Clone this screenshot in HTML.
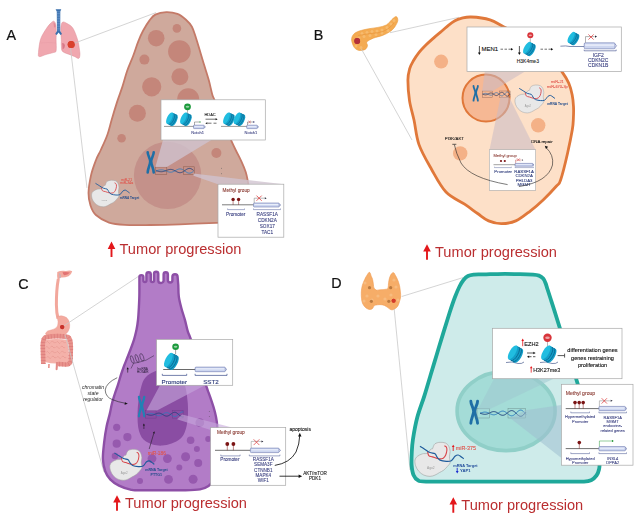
<!DOCTYPE html>
<html><head><meta charset="utf-8"><style>
html,body{margin:0;padding:0;background:#fff;}
svg{display:block;font-family:'Liberation Sans',sans-serif;filter:blur(0.3px);}
</style></head><body>
<svg width="639" height="517" viewBox="0 0 639 517">
<text x="6.4" y="40" font-size="14.3" fill="#111" stroke="#111" stroke-width="0.2">A</text>
<text x="313.8" y="40" font-size="14.3" fill="#111" stroke="#111" stroke-width="0.2">B</text>
<text x="18.2" y="288.6" font-size="14.3" fill="#111" stroke="#111" stroke-width="0.2">C</text>
<text x="331.3" y="288.4" font-size="14.3" fill="#111" stroke="#111" stroke-width="0.2">D</text>
<path d="M53.8,21.2 C54.7,21.4 55.4,22.9 55.8,24.7 C56.2,26.5 56.2,29.5 56.3,32.0 C56.3,34.5 56.1,36.7 56.1,39.8 C56.1,42.9 56.6,48.7 56.1,50.8 C55.6,52.9 54.9,52.0 53.2,52.6 C51.5,53.2 48.3,53.8 46.0,54.5 C43.7,55.2 40.5,56.9 39.3,56.6 C38.0,56.3 38.3,55.3 38.5,52.5 C38.7,49.7 39.3,43.5 40.4,39.8 C41.5,36.1 43.5,33.2 45.1,30.5 C46.8,27.8 48.8,25.2 50.3,23.6 C51.8,22.1 52.9,21.0 53.8,21.2Z" fill="#f0a7af" stroke="#dc8c97" stroke-width="0.5"/><path d="M62.5,22.2 C63.5,21.4 65.4,22.6 67.1,23.6 C68.8,24.6 71.2,25.5 72.9,28.2 C74.7,30.9 76.5,36.2 77.6,39.8 C78.7,43.4 79.1,47.5 79.5,50.0 C79.9,52.5 80.0,53.5 79.9,54.9 C79.8,56.3 79.6,58.1 78.7,58.4 C77.8,58.7 75.8,57.1 74.5,56.5 C73.2,55.9 72.6,55.8 70.6,54.9 C68.6,54.0 64.0,53.0 62.5,51.4 C61.0,49.8 61.5,46.9 61.3,45.0 C61.1,43.1 61.4,42.6 61.3,39.8 C61.2,37.0 60.6,31.1 60.8,28.2 C61.0,25.3 61.5,23.0 62.5,22.2Z" fill="#f0a7af" stroke="#dc8c97" stroke-width="0.5"/><path d="M62.2,43 Q64.5,42.5 65,45.5 Q64.8,48.5 62.6,49.5 Z" fill="#d97887"/><path d="M53.5,22.5 Q55.8,23.2 55.6,27 L54,27.5 Z" fill="#e28a96"/><path d="M40.5,43 Q48,42 56,43" stroke="#e59aa4" stroke-width="0.4" fill="none"/><path d="M55.6,9.2 L61.3,9.2 L60.3,11.5 L60.2,31 L62,34 L60.5,35 L58.6,32.5 L56.7,35 L55.2,34 L57,31 L56.8,11.5 Z" fill="#3b70ad"/><line x1="56.9" y1="11.80" x2="60.1" y2="11.80" stroke="#7fa9d8" stroke-width="0.55"/><line x1="56.9" y1="13.45" x2="60.1" y2="13.45" stroke="#7fa9d8" stroke-width="0.55"/><line x1="56.9" y1="15.10" x2="60.1" y2="15.10" stroke="#7fa9d8" stroke-width="0.55"/><line x1="56.9" y1="16.75" x2="60.1" y2="16.75" stroke="#7fa9d8" stroke-width="0.55"/><line x1="56.9" y1="18.40" x2="60.1" y2="18.40" stroke="#7fa9d8" stroke-width="0.55"/><line x1="56.9" y1="20.05" x2="60.1" y2="20.05" stroke="#7fa9d8" stroke-width="0.55"/><line x1="56.9" y1="21.70" x2="60.1" y2="21.70" stroke="#7fa9d8" stroke-width="0.55"/><line x1="56.9" y1="23.35" x2="60.1" y2="23.35" stroke="#7fa9d8" stroke-width="0.55"/><line x1="56.9" y1="25.00" x2="60.1" y2="25.00" stroke="#7fa9d8" stroke-width="0.55"/><line x1="56.9" y1="26.65" x2="60.1" y2="26.65" stroke="#7fa9d8" stroke-width="0.55"/><line x1="56.9" y1="28.30" x2="60.1" y2="28.30" stroke="#7fa9d8" stroke-width="0.55"/><line x1="56.9" y1="29.95" x2="60.1" y2="29.95" stroke="#7fa9d8" stroke-width="0.55"/><circle cx="71.2" cy="44.5" r="3.5" fill="#d9412e"/>
<path d="M396.2,16.6 C395.2,16.4 393.6,18.0 392.0,19.4 C390.4,20.8 388.7,23.7 386.3,25.0 C383.9,26.3 380.9,26.8 377.9,27.4 C374.9,28.0 371.6,28.2 368.5,28.8 C365.4,29.4 361.6,30.2 359.1,31.1 C356.6,32.0 354.8,32.9 353.5,34.4 C352.2,35.9 351.5,37.8 351.6,40.0 C351.8,42.2 353.1,45.9 354.4,47.6 C355.6,49.3 357.3,50.1 359.1,50.4 C360.9,50.7 363.8,50.2 365.2,49.4 C366.6,48.6 367.2,46.9 367.5,45.7 C367.8,44.5 365.9,43.2 366.8,42.0 C367.8,40.8 370.6,39.3 373.2,38.2 C375.8,37.1 379.8,36.5 382.6,35.4 C385.4,34.3 388.0,33.0 390.0,31.6 C392.0,30.2 393.5,28.8 394.8,26.9 C396.1,25.0 397.6,22.2 397.8,20.5 C398.0,18.8 397.2,16.8 396.2,16.6Z" fill="#f4ab52" stroke="#e99a3e" stroke-width="0.6"/><circle cx="362" cy="33.5" r="1.5" fill="#f8c27a" opacity="0.7"/><circle cx="367" cy="32.5" r="1.5" fill="#f8c27a" opacity="0.7"/><circle cx="372" cy="31.5" r="1.5" fill="#f8c27a" opacity="0.7"/><circle cx="377" cy="31" r="1.5" fill="#f8c27a" opacity="0.7"/><circle cx="382" cy="30" r="1.5" fill="#f8c27a" opacity="0.7"/><circle cx="387" cy="27.5" r="1.5" fill="#f8c27a" opacity="0.7"/><circle cx="391" cy="24" r="1.5" fill="#f8c27a" opacity="0.7"/><circle cx="394" cy="20.5" r="1.5" fill="#f8c27a" opacity="0.7"/><circle cx="359" cy="38" r="1.5" fill="#f8c27a" opacity="0.7"/><circle cx="364" cy="36.5" r="1.5" fill="#f8c27a" opacity="0.7"/><circle cx="370" cy="35.5" r="1.5" fill="#f8c27a" opacity="0.7"/><circle cx="376" cy="34.5" r="1.5" fill="#f8c27a" opacity="0.7"/><circle cx="382" cy="33" r="1.5" fill="#f8c27a" opacity="0.7"/><circle cx="388" cy="30.5" r="1.5" fill="#f8c27a" opacity="0.7"/><circle cx="356" cy="46" r="1.5" fill="#f8c27a" opacity="0.7"/><circle cx="361" cy="47.5" r="1.5" fill="#f8c27a" opacity="0.7"/><path d="M358,35.5 Q368,33.5 378,32.8 Q388,31 394,23" stroke="#e38f36" stroke-width="0.5" fill="none"/><circle cx="357.2" cy="41" r="2.9" fill="#b3303a"/>
<path d="M57.3,272 Q61,270.2 66,271 Q70,270 72.2,271.2 Q71.5,274.5 68.5,276.2 Q64.5,277.8 61,277.5 Q59.2,278 59,280 L57.6,280 Q56.8,276 57.3,272Z" fill="#f2a89d"/><path d="M62.5,272.3 Q66.5,271.8 70,272.6 Q67.5,275.2 64.5,275.2 Q63,274.8 62.5,272.3Z" fill="#e27272"/><path d="M59.5,273.5 Q60.8,276 59.8,278.2" stroke="#a9b8c8" stroke-width="0.9" fill="none"/><path d="M58.3,279 Q56.3,290 56.4,305 Q56.5,313 58,318.5" stroke="#f2a79c" stroke-width="3" fill="none"/><path d="M57,316.5 Q62,314.5 66.5,317.5 Q70.5,321.5 69.5,328 Q68,334 62,336 Q55,337.5 49,336.5 Q45.3,335.5 45.6,333 Q47,330.5 51,330 Q55.5,329.5 57.5,326 Q58.8,322 57,316.5Z" fill="#f3aa9f" stroke="#e8948c" stroke-width="0.4"/><path d="M45,340 Q56,338 68,340 L68,362 Q56,365 45,362Z" fill="#f4b1a9"/><path d="M46.3,342.5 q1.1,-2.2 2.2,0 q1.1,2.2 2.2,0" stroke="#e08a84" stroke-width="0.45" fill="none"/><path d="M51.3,342 q1.1,-2.2 2.2,0 q1.1,2.2 2.2,0" stroke="#e08a84" stroke-width="0.45" fill="none"/><path d="M56.3,342.5 q1.1,-2.2 2.2,0 q1.1,2.2 2.2,0" stroke="#e08a84" stroke-width="0.45" fill="none"/><path d="M61.3,342 q1.1,-2.2 2.2,0 q1.1,2.2 2.2,0" stroke="#e08a84" stroke-width="0.45" fill="none"/><path d="M45.8,347.5 q1.1,-2.2 2.2,0 q1.1,2.2 2.2,0" stroke="#e08a84" stroke-width="0.45" fill="none"/><path d="M50.8,347 q1.1,-2.2 2.2,0 q1.1,2.2 2.2,0" stroke="#e08a84" stroke-width="0.45" fill="none"/><path d="M55.8,347.5 q1.1,-2.2 2.2,0 q1.1,2.2 2.2,0" stroke="#e08a84" stroke-width="0.45" fill="none"/><path d="M60.8,347 q1.1,-2.2 2.2,0 q1.1,2.2 2.2,0" stroke="#e08a84" stroke-width="0.45" fill="none"/><path d="M46.3,352.5 q1.1,-2.2 2.2,0 q1.1,2.2 2.2,0" stroke="#e08a84" stroke-width="0.45" fill="none"/><path d="M51.3,352 q1.1,-2.2 2.2,0 q1.1,2.2 2.2,0" stroke="#e08a84" stroke-width="0.45" fill="none"/><path d="M56.3,352.5 q1.1,-2.2 2.2,0 q1.1,2.2 2.2,0" stroke="#e08a84" stroke-width="0.45" fill="none"/><path d="M61.3,352 q1.1,-2.2 2.2,0 q1.1,2.2 2.2,0" stroke="#e08a84" stroke-width="0.45" fill="none"/><path d="M46.8,357.5 q1.1,-2.2 2.2,0 q1.1,2.2 2.2,0" stroke="#e08a84" stroke-width="0.45" fill="none"/><path d="M51.8,357 q1.1,-2.2 2.2,0 q1.1,2.2 2.2,0" stroke="#e08a84" stroke-width="0.45" fill="none"/><path d="M56.8,357.5 q1.1,-2.2 2.2,0 q1.1,2.2 2.2,0" stroke="#e08a84" stroke-width="0.45" fill="none"/><path d="M61.8,357 q1.1,-2.2 2.2,0 q1.1,2.2 2.2,0" stroke="#e08a84" stroke-width="0.45" fill="none"/><path d="M43.3,364 L42.8,348 Q42.5,339.5 45,337.5 Q56,335 68,337 Q71,339 70.8,348 L70.5,361 Q70,364.5 66,364.5 L58,364" stroke="#e8928b" stroke-width="4.6" fill="none" stroke-linejoin="round"/><path d="M43.3,364 L42.8,348 Q42.5,339.5 45,337.5 Q56,335 68,337 Q71,339 70.8,348 L70.5,361 Q70,364.5 66,364.5 L58,364" stroke="#d9787a" stroke-width="4.6" fill="none" stroke-dasharray="0.6 2.4" stroke-linejoin="round"/><path d="M56,362 L55.6,369.5 Q56.5,371 57.6,369.5 L58.2,362Z" fill="#e28a86"/><path d="M49,364 L48.8,368" stroke="#e8928b" stroke-width="1.6"/><circle cx="62.2" cy="327.1" r="2.1" fill="#c8322a"/>
<path d="M369.5,272.3 C368.7,272.1 367.6,274.3 366.8,275.5 C366.0,276.7 365.4,277.8 364.7,279.5 C363.9,281.2 362.9,283.4 362.3,285.5 C361.7,287.6 361.4,289.8 361.3,292.0 C361.2,294.2 361.3,296.6 361.5,298.5 C361.7,300.4 362.0,302.2 362.7,303.7 C363.4,305.2 364.4,306.5 365.5,307.5 C366.6,308.5 368.3,309.3 369.5,309.5 C370.7,309.7 371.7,309.1 372.5,308.5 C373.3,307.9 373.5,306.2 374.3,305.6 C375.1,305.0 376.4,305.0 377.5,304.8 C378.6,304.6 379.9,304.6 381.1,304.7 C382.3,304.8 383.4,305.0 384.5,305.5 C385.6,306.0 386.9,306.9 387.9,307.6 C388.9,308.3 389.6,309.2 390.5,309.5 C391.4,309.8 392.4,310.0 393.6,309.5 C394.8,309.0 396.5,307.8 397.5,306.5 C398.5,305.2 398.9,303.4 399.4,301.8 C399.9,300.2 400.4,298.6 400.6,297.0 C400.8,295.4 400.6,293.9 400.4,292.0 C400.2,290.1 400.0,287.6 399.5,285.5 C399.0,283.4 398.2,281.2 397.5,279.5 C396.8,277.8 396.1,276.6 395.5,275.5 C394.9,274.4 394.3,272.9 393.6,272.7 C392.9,272.4 392.0,273.1 391.3,274.0 C390.6,274.9 389.9,276.6 389.5,278.0 C389.1,279.4 388.9,280.7 388.6,282.4 C388.3,284.1 388.5,287.0 387.9,288.2 C387.3,289.4 386.0,289.1 385.0,289.4 C384.0,289.6 383.0,289.6 382.0,289.7 C381.0,289.8 379.9,289.8 379.0,289.9 C378.1,290.0 377.1,290.4 376.3,290.1 C375.5,289.8 374.5,289.0 374.0,288.0 C373.5,287.0 373.6,285.7 373.4,284.3 C373.2,282.9 372.9,280.8 372.6,279.5 C372.3,278.2 371.9,277.8 371.4,276.6 C370.9,275.4 370.3,272.5 369.5,272.3Z" fill="#f6ad68" stroke="#f09a50" stroke-width="0.6"/><circle cx="365" cy="283" r="1.6" fill="#f8bf86" opacity="0.8"/><circle cx="367" cy="296" r="1.6" fill="#f8bf86" opacity="0.8"/><circle cx="372" cy="300" r="1.6" fill="#f8bf86" opacity="0.8"/><circle cx="378" cy="296" r="1.6" fill="#f8bf86" opacity="0.8"/><circle cx="385" cy="299" r="1.6" fill="#f8bf86" opacity="0.8"/><circle cx="391" cy="295" r="1.6" fill="#f8bf86" opacity="0.8"/><circle cx="396" cy="287" r="1.6" fill="#f8bf86" opacity="0.8"/><circle cx="394" cy="280" r="1.6" fill="#f8bf86" opacity="0.8"/><circle cx="364" cy="301" r="1.6" fill="#f8bf86" opacity="0.8"/><circle cx="398" cy="300" r="1.6" fill="#f8bf86" opacity="0.8"/><circle cx="369.5" cy="287.7" r="1.6" fill="#bb7a40"/><circle cx="390.7" cy="287.7" r="1.6" fill="#bb7a40"/><circle cx="371.4" cy="301.3" r="1.6" fill="#bb7a40"/><circle cx="388.8" cy="301.3" r="1.6" fill="#bb7a40"/><circle cx="393.6" cy="300.8" r="2.0" fill="#d33a2a"/>
<line x1="71" y1="44.5" x2="156" y2="12.6" stroke="#c9c9c9" stroke-width="0.8" fill="none"/>
<line x1="70.5" y1="48" x2="87" y2="188" stroke="#c9c9c9" stroke-width="0.8" fill="none"/>
<line x1="390" y1="32.7" x2="459" y2="17.3" stroke="#c9c9c9" stroke-width="0.8" fill="none"/>
<line x1="361.4" y1="49" x2="412" y2="140" stroke="#c9c9c9" stroke-width="0.8" fill="none"/>
<line x1="61.6" y1="327.4" x2="139" y2="276" stroke="#c9c9c9" stroke-width="0.8" fill="none"/>
<line x1="65" y1="335" x2="104" y2="472" stroke="#c9c9c9" stroke-width="0.8" fill="none"/>
<line x1="401.7" y1="296.5" x2="463" y2="277.6" stroke="#c9c9c9" stroke-width="0.8" fill="none"/>
<line x1="394.2" y1="309" x2="410" y2="470" stroke="#c9c9c9" stroke-width="0.8" fill="none"/>
<circle cx="71.2" cy="44.5" r="3.5" fill="#d9412e"/>
<circle cx="357.2" cy="41" r="2.9" fill="#b3303a"/>
<circle cx="62.2" cy="327.1" r="2.1" fill="#c8322a"/>
<circle cx="393.6" cy="300.8" r="2.0" fill="#d33a2a"/>
<path d="M166.3,12.1 C170.0,12.0 174.2,12.7 177.4,13.9 C180.6,15.1 183.3,17.4 185.7,19.5 C188.1,21.6 190.2,23.7 191.9,26.8 C193.6,29.9 194.5,33.5 196.0,38.0 C197.5,42.5 199.2,48.6 200.7,53.5 C202.2,58.4 203.4,62.6 204.8,67.1 C206.2,71.6 207.7,76.1 208.9,80.6 C210.1,85.1 211.3,91.0 212.2,94.2 C213.1,97.4 212.8,95.7 214.5,100.0 C216.2,104.3 219.7,113.2 222.5,120.0 C225.3,126.8 229.1,135.7 231.4,140.9 C233.7,146.1 234.5,147.6 236.2,151.0 C237.9,154.4 239.9,158.1 241.5,161.6 C243.1,165.1 244.7,168.8 245.8,172.2 C246.9,175.6 247.2,178.0 247.9,181.8 C248.6,185.6 249.7,190.3 250.0,195.0 C250.3,199.7 250.7,205.8 249.5,210.0 C248.3,214.2 246.2,217.9 243.0,220.0 C239.8,222.1 234.5,221.8 230.0,222.3 C225.5,222.8 224.3,222.5 216.0,222.8 C207.7,223.1 191.0,223.9 180.0,224.3 C169.0,224.7 159.2,224.9 150.0,225.0 C140.8,225.1 131.8,225.3 125.0,224.9 C118.2,224.5 113.8,224.2 109.0,222.6 C104.2,220.9 99.0,217.8 95.9,215.0 C92.8,212.2 91.7,209.2 90.5,205.5 C89.3,201.8 88.4,198.0 88.5,193.0 C88.6,188.0 89.8,180.9 91.0,175.4 C92.2,169.9 94.4,164.2 96.0,160.0 C97.6,155.8 98.9,154.2 100.8,150.0 C102.7,145.8 105.5,140.0 107.3,135.0 C109.1,130.0 110.0,125.5 111.6,120.0 C113.2,114.5 115.3,107.5 117.1,101.9 C118.9,96.3 120.8,91.6 122.5,86.4 C124.2,81.2 125.3,76.2 127.1,71.0 C128.9,65.8 131.5,60.4 133.3,55.5 C135.2,50.6 136.5,45.8 138.2,41.6 C139.8,37.4 141.3,34.0 143.2,30.5 C145.1,27.0 147.4,23.2 149.4,20.6 C151.4,18.0 152.5,16.0 155.3,14.6 C158.1,13.2 162.6,12.2 166.3,12.1Z" fill="#cfa99c" stroke="#c47a68" stroke-width="1.8"/>
<circle cx="176.9" cy="28.4" r="4.3" fill="#c4867a"/>
<circle cx="156.2" cy="38.2" r="8.3" fill="#c4867a"/>
<circle cx="179.4" cy="51.6" r="11.3" fill="#c4867a"/>
<circle cx="144.4" cy="59.6" r="5" fill="#c4867a"/>
<circle cx="179.9" cy="76.7" r="8.5" fill="#c4867a"/>
<circle cx="151.7" cy="86.8" r="9.6" fill="#c4867a"/>
<circle cx="137.4" cy="113.2" r="8.5" fill="#c4867a"/>
<circle cx="188.2" cy="99.3" r="11" fill="#c4867a"/>
<circle cx="121.6" cy="138.2" r="4.3" fill="#c4867a"/>
<circle cx="216.4" cy="153" r="5" fill="#c4867a"/>
<circle cx="167.6" cy="175.4" r="33.7" fill="#c4918a"/>
<path d="M147.69,152.29 C147.69,155.56 150.18,158.07 150.18,161.49 C150.18,164.91 147.69,168.78 147.69,172.51" stroke="#1f6fa6" stroke-width="2.58" stroke-linecap="round" stroke-linejoin="round" fill="none"/><path d="M153.71,152.29 C153.71,155.56 151.22,158.07 151.22,161.49 C151.22,164.91 153.71,168.78 153.71,172.51" stroke="#1f6fa6" stroke-width="2.58" stroke-linecap="round" stroke-linejoin="round" fill="none"/>
<polyline points="156.00,170.80 156.49,170.69 156.99,170.58 157.48,170.46 157.97,170.34 158.47,170.23 158.96,170.13 159.45,170.05 159.95,169.97 160.44,169.92 160.93,169.90 161.43,169.89 161.92,169.91 162.41,169.96 162.91,170.04 163.40,170.14 163.89,170.26 164.39,170.41 164.88,170.57 165.38,170.75 165.87,170.94 166.36,171.13 166.86,171.33 167.35,171.51 167.84,171.69 168.34,171.84 168.83,171.97 169.32,172.08 169.82,172.15 170.31,172.19 170.80,172.20 171.30,172.16 171.79,172.08 172.28,171.97 172.78,171.82 173.27,171.64 173.76,171.43 174.26,171.19 174.75,170.93 175.24,170.67 175.74,170.40 176.23,170.13 176.72,169.87 177.22,169.63 177.71,169.41 178.20,169.23 178.70,169.08 179.19,168.98 179.68,168.92 180.18,168.91 180.67,168.96 181.16,169.05 181.66,169.20 182.15,169.39 182.64,169.63 183.14,169.90 183.63,170.21 184.12,170.54 184.62,170.88 185.11,171.23 185.61,171.58 186.10,171.92 186.59,172.23 187.09,172.51 187.58,172.75 188.07,172.94 188.57,173.08 189.06,173.16 189.55,173.18 190.05,173.14 190.54,173.03 191.03,172.85 191.53,172.62 192.02,172.34 192.51,172.00 193.01,171.63 193.50,171.23" stroke="#2b7dc0" stroke-width="0.85" fill="none"/><polyline points="156.00,170.80 156.49,170.91 156.99,171.02 157.48,171.14 157.97,171.26 158.47,171.37 158.96,171.47 159.45,171.55 159.95,171.63 160.44,171.68 160.93,171.70 161.43,171.71 161.92,171.69 162.41,171.64 162.91,171.56 163.40,171.46 163.89,171.34 164.39,171.19 164.88,171.03 165.38,170.85 165.87,170.66 166.36,170.47 166.86,170.27 167.35,170.09 167.84,169.91 168.34,169.76 168.83,169.63 169.32,169.52 169.82,169.45 170.31,169.41 170.80,169.40 171.30,169.44 171.79,169.52 172.28,169.63 172.78,169.78 173.27,169.96 173.76,170.17 174.26,170.41 174.75,170.67 175.24,170.93 175.74,171.20 176.23,171.47 176.72,171.73 177.22,171.97 177.71,172.19 178.20,172.37 178.70,172.52 179.19,172.62 179.68,172.68 180.18,172.69 180.67,172.64 181.16,172.55 181.66,172.40 182.15,172.21 182.64,171.97 183.14,171.70 183.63,171.39 184.12,171.06 184.62,170.72 185.11,170.37 185.61,170.02 186.10,169.68 186.59,169.37 187.09,169.09 187.58,168.85 188.07,168.66 188.57,168.52 189.06,168.44 189.55,168.42 190.05,168.46 190.54,168.57 191.03,168.75 191.53,168.98 192.02,169.26 192.51,169.60 193.01,169.97 193.50,170.37" stroke="#1d3f7a" stroke-width="0.85" fill="none"/>
<rect x="155.2" y="167" width="11.6" height="7.6" fill="none" stroke="#8a5a4a" stroke-width="0.5"/>
<rect x="183.3" y="166.8" width="10.9" height="7.8" fill="none" stroke="#8a5a4a" stroke-width="0.5"/>
<circle cx="221.5" cy="168.3" r="0.45" fill="#555"/><circle cx="221.5" cy="173.8" r="0.45" fill="#555"/>
<path d="M155.4,167 L166.8,167 L211.4,140 L163,140 Z" fill="#cfc3cf" opacity="0.78"/>
<path d="M193.5,173.6 L284,184.2 L218,184.2 L193.5,175.8 Z" fill="#cfc3cf" opacity="0.78"/>
<rect x="161" y="99.8" width="104.3" height="40.2" fill="#fff" stroke="#a8a8a8" stroke-width="0.7"/><line x1="164" y1="126.4" x2="194" y2="126.4" stroke="#555" stroke-width="0.6"/><line x1="221" y1="126.4" x2="247" y2="126.4" stroke="#555" stroke-width="0.6"/><g transform="translate(172,119.3) rotate(25) scale(1.0)"><path d="M-2.8,-6.2 L2.6,-6.2 A2.4,6.2 0 0 1 2.6,6.2 L-2.8,6.2 Z" fill="#139fc8"/><path d="M-0.7,-6.1 A2.4,6.1 0 0 1 -0.7,6.1" stroke="#0a6a95" stroke-width="0.7" fill="none"/><path d="M1.1,-6.1 A2.4,6.1 0 0 1 1.1,6.1" stroke="#0a6a95" stroke-width="0.7" fill="none"/><ellipse cx="-2.8" cy="0" rx="2.4" ry="6.2" fill="#21bde0"/></g><g transform="translate(186,119.3) rotate(25) scale(1.0)"><path d="M-2.8,-6.2 L2.6,-6.2 A2.4,6.2 0 0 1 2.6,6.2 L-2.8,6.2 Z" fill="#139fc8"/><path d="M-0.7,-6.1 A2.4,6.1 0 0 1 -0.7,6.1" stroke="#0a6a95" stroke-width="0.7" fill="none"/><path d="M1.1,-6.1 A2.4,6.1 0 0 1 1.1,6.1" stroke="#0a6a95" stroke-width="0.7" fill="none"/><ellipse cx="-2.8" cy="0" rx="2.4" ry="6.2" fill="#21bde0"/></g><g transform="translate(229,119.3) rotate(25) scale(1.0)"><path d="M-2.8,-6.2 L2.6,-6.2 A2.4,6.2 0 0 1 2.6,6.2 L-2.8,6.2 Z" fill="#139fc8"/><path d="M-0.7,-6.1 A2.4,6.1 0 0 1 -0.7,6.1" stroke="#0a6a95" stroke-width="0.7" fill="none"/><path d="M1.1,-6.1 A2.4,6.1 0 0 1 1.1,6.1" stroke="#0a6a95" stroke-width="0.7" fill="none"/><ellipse cx="-2.8" cy="0" rx="2.4" ry="6.2" fill="#21bde0"/></g><g transform="translate(239.5,119.3) rotate(25) scale(1.0)"><path d="M-2.8,-6.2 L2.6,-6.2 A2.4,6.2 0 0 1 2.6,6.2 L-2.8,6.2 Z" fill="#139fc8"/><path d="M-0.7,-6.1 A2.4,6.1 0 0 1 -0.7,6.1" stroke="#0a6a95" stroke-width="0.7" fill="none"/><path d="M1.1,-6.1 A2.4,6.1 0 0 1 1.1,6.1" stroke="#0a6a95" stroke-width="0.7" fill="none"/><ellipse cx="-2.8" cy="0" rx="2.4" ry="6.2" fill="#21bde0"/></g><line x1="187.5" y1="110" x2="187.5" y2="113.5" stroke="#888" stroke-width="0.6"/><circle cx="187.5" cy="106.8" r="3.4" fill="#1c9a3c"/><ellipse cx="187.5" cy="106.8" rx="1.87" ry="1.02" fill="#fff" opacity="0.55"/><rect x="193.5" y="125.2" width="10.64" height="3.4" rx="0.68" fill="#cdd6f0" stroke="#5563a0" stroke-width="0.5"/><line x1="194.5" y1="126.49" x2="203.14" y2="126.49" stroke="#eef2fc" stroke-width="0.75"/><path d="M204.14,125.88 L205.5,126.90 L204.14,127.92" fill="none" stroke="#5563a0" stroke-width="0.5"/><rect x="246.7" y="125.2" width="10.64" height="3.4" rx="0.68" fill="#cdd6f0" stroke="#5563a0" stroke-width="0.5"/><line x1="247.7" y1="126.49" x2="256.34" y2="126.49" stroke="#eef2fc" stroke-width="0.75"/><path d="M257.34,125.88 L258.7,126.90 L257.34,127.92" fill="none" stroke="#5563a0" stroke-width="0.5"/><path d="M194.5,125 v-3 h5" stroke="#333" stroke-width="0.4" fill="none"/><circle cx="200" cy="122" r="0.7" fill="#2a9a3a"/><path d="M247.5,125 v-3 h6" stroke="#333" stroke-width="0.4" fill="none"/><circle cx="253.8" cy="122" r="0.7" fill="#2a2a6a"/><path d="M248.4,120.8 L250.79999999999998,123.2 M250.79999999999998,120.8 L248.4,123.2" stroke="#d33" stroke-width="0.5"/><text x="210.1" y="115.9" font-size="4.0" fill="#222" text-anchor="middle" font-weight="normal" font-style="normal" stroke="#222" stroke-width="0.080" >HDAC</text><line x1="205.5" y1="119.2" x2="216.5" y2="119.2" stroke="#111" stroke-width="0.6"/><path d="M217.6,119.2 l-2,-1 v2z" fill="#111"/><line x1="207.5" y1="123.2" x2="211.5" y2="123.2" stroke="#111" stroke-width="0.6"/><path d="M205.3,123.2 l2,-1 v2z" fill="#111"/><line x1="213.5" y1="123.2" x2="216.5" y2="123.2" stroke="#111" stroke-width="0.6"/><text x="197.6" y="133.6" font-size="4.0" fill="#3b4080" text-anchor="middle" font-weight="normal" font-style="normal" stroke="#3b4080" stroke-width="0.080" >Notch1</text><text x="250.9" y="133.6" font-size="4.0" fill="#3b4080" text-anchor="middle" font-weight="normal" font-style="normal" stroke="#3b4080" stroke-width="0.080" >Notch1</text>
<rect x="218" y="184.2" width="65.8" height="53" fill="#fff" stroke="#a8a8a8" stroke-width="0.7"/><text x="222.6" y="192.2" font-size="4.7" fill="#8a3a32" text-anchor="start" font-weight="normal" font-style="normal" stroke="#8a3a32" stroke-width="0.094" >Methyl group</text><line x1="222" y1="204.8" x2="253.5" y2="204.8" stroke="#444" stroke-width="0.7"/><line x1="233.1" y1="204.8" x2="233.1" y2="199.4" stroke="#7a1212" stroke-width="0.5"/><circle cx="233.1" cy="199.4" r="1.7" fill="#7b1414"/><line x1="238.6" y1="204.8" x2="238.6" y2="199.4" stroke="#7a1212" stroke-width="0.5"/><circle cx="238.6" cy="199.4" r="1.7" fill="#7b1414"/><rect x="253.5" y="203" width="25.7" height="4" rx="0.80" fill="#cdd6f0" stroke="#5563a0" stroke-width="0.5"/><line x1="254.5" y1="204.52" x2="278.2" y2="204.52" stroke="#eef2fc" stroke-width="0.88"/><path d="M279.2,203.80 L280.8,205.00 L279.2,206.20" fill="none" stroke="#5563a0" stroke-width="0.5"/><path d="M254.2,203 v-4.8 h10.5" stroke="#666" stroke-width="0.45" fill="none"/><path d="M266.6,198.2 l-1.8,-1 v2z" fill="#223"/><path d="M256.5,195.6 L261.70000000000005,200.79999999999998 M261.70000000000005,195.6 L256.5,200.79999999999998" stroke="#d33" stroke-width="0.75"/><path d="M227.6,208.5 v1.1 h16.900000000000006 v-1.1" stroke="#3a4a8a" stroke-width="0.45" fill="none"/><path d="M253.5,208.5 v1.1 h27.0 v-1.1" stroke="#3a4a8a" stroke-width="0.45" fill="none"/><text x="235.7" y="216.2" font-size="4.7" fill="#3b4080" text-anchor="middle" font-weight="normal" font-style="normal" stroke="#3b4080" stroke-width="0.094" >Promoter</text><text x="267.3" y="216.2" font-size="4.7" fill="#3b4080" text-anchor="middle" font-weight="normal" font-style="normal" stroke="#3b4080" stroke-width="0.094" >RASSF1A</text><text x="267.3" y="222.25" font-size="4.7" fill="#3b4080" text-anchor="middle" font-weight="normal" font-style="normal" stroke="#3b4080" stroke-width="0.094" >CDKN2A</text><text x="267.3" y="228.29999999999998" font-size="4.7" fill="#3b4080" text-anchor="middle" font-weight="normal" font-style="normal" stroke="#3b4080" stroke-width="0.094" >SOX17</text><text x="267.3" y="234.35" font-size="4.7" fill="#3b4080" text-anchor="middle" font-weight="normal" font-style="normal" stroke="#3b4080" stroke-width="0.094" >TAC1</text>
<g transform="translate(91.6,180.2) scale(0.78)"><path d="M18.2,4.6 C18.6,3.8 18.9,2.3 20.0,1.5 C21.1,0.7 23.2,0.1 25.0,0.0 C26.8,-0.1 29.2,0.1 30.7,0.8 C32.2,1.5 33.1,2.6 33.8,4.0 C34.5,5.4 35.0,7.2 35.1,9.0 C35.2,10.8 34.4,12.7 34.4,14.6 C34.4,16.5 35.4,18.7 35.1,20.3 C34.8,21.9 33.5,22.8 32.5,24.0 C31.4,25.2 30.2,26.8 28.8,27.8 C27.4,28.9 25.9,29.5 24.4,30.3 C22.9,31.1 21.6,32.2 20.0,32.8 C18.4,33.4 16.9,34.1 15.0,34.1 C13.1,34.1 10.7,33.6 8.8,32.8 C6.9,31.9 5.2,30.6 3.8,29.0 C2.4,27.4 1.2,25.3 0.6,23.4 C-0.0,21.5 -0.3,19.4 0.0,17.8 C0.3,16.2 1.2,15.1 2.5,14.0 C3.8,12.9 5.8,12.0 7.5,11.5 C9.2,11.0 11.1,11.7 12.5,10.9 C13.9,10.2 14.9,7.7 15.7,7.0 C16.5,6.3 17.1,6.9 17.5,6.5 C17.9,6.1 17.8,5.4 18.2,4.6Z" fill="#e8e8e8" stroke="#a0a0a0" stroke-width="0.6"/><path d="M12.5,9.0 C12.7,9.7 13.0,12.5 13.8,13.4 C14.6,14.3 15.8,14.1 17.5,14.6 C19.2,15.1 22.0,16.3 23.8,16.5 C25.6,16.7 27.1,16.5 28.2,15.9 C29.3,15.3 30.1,14.1 30.7,12.7 C31.3,11.3 31.8,9.1 31.9,7.7 C32.0,6.4 31.7,5.3 31.3,4.6 C30.9,3.9 29.7,3.6 29.4,3.4" stroke="#d8454a" stroke-width="1.1" fill="none"/><path d="M5.0,4.0 C5.8,4.5 8.3,6.1 10.0,7.1 C11.7,8.1 13.3,9.5 15.0,10.2 C16.7,10.9 18.9,10.8 20.0,11.5 C21.1,12.2 21.1,13.5 21.9,14.6 C22.7,15.7 23.4,17.1 25.0,17.8 C26.6,18.5 29.4,18.9 31.3,19.0 C33.2,19.1 34.8,19.2 36.3,18.4 C37.8,17.6 38.9,14.9 40.0,14.0 C41.1,13.1 42.2,12.6 43.2,12.7 C44.2,12.8 45.4,14.0 46.3,14.6 C47.2,15.2 48.4,16.2 48.8,16.5" stroke="#1f5c9c" stroke-width="1.2" fill="none"/><text x="12" y="27" font-size="3.2" fill="#999">Ago2</text></g>
<text x="126.7" y="180.5" font-size="3.4" fill="#e0524a" text-anchor="middle" font-weight="normal" font-style="normal" stroke="#e0524a" stroke-width="0.068" >miR-21</text>
<text x="126.7" y="184.4" font-size="3.4" fill="#e0524a" text-anchor="middle" font-weight="normal" font-style="normal" stroke="#e0524a" stroke-width="0.068" >miR-34a</text>
<text x="129.5" y="199.4" font-size="3.1" fill="#1f4a8a" text-anchor="middle" font-weight="bold" font-style="normal" >mRNA Target</text>
<path d="M471.0,17.0 C475.8,17.2 484.5,18.1 490.0,19.8 C495.5,21.5 497.3,23.5 504.0,27.0 C510.7,30.5 522.2,35.8 530.0,41.0 C537.8,46.2 545.7,52.9 551.0,58.0 C556.3,63.1 558.9,67.4 561.9,71.6 C564.9,75.8 567.1,79.4 568.8,83.3 C570.5,87.2 571.4,91.1 572.2,95.0 C573.0,98.9 573.3,102.7 573.5,106.5 C573.7,110.3 573.6,114.1 573.4,118.0 C573.2,121.9 573.3,124.0 572.3,129.8 C571.3,135.6 569.5,144.6 567.6,153.0 C565.7,161.4 562.5,174.5 560.6,180.0 C558.8,185.5 559.4,182.7 556.5,186.0 C553.6,189.3 547.7,195.6 543.4,199.7 C539.1,203.8 535.1,207.3 530.5,210.8 C525.9,214.3 520.7,218.8 515.8,220.9 C510.9,223.1 505.8,223.7 501.3,223.7 C496.8,223.7 492.6,222.6 488.6,220.9 C484.7,219.2 481.6,216.3 477.6,213.5 C473.6,210.7 469.9,207.8 464.6,204.2 C459.3,200.6 451.5,197.8 446.0,192.0 C440.5,186.2 436.0,177.1 431.5,169.2 C427.0,161.3 421.9,152.8 419.0,144.6 C416.1,136.4 415.6,127.3 414.0,120.0 C412.4,112.7 410.5,107.3 409.5,100.6 C408.5,93.9 407.9,85.3 407.9,80.0 C407.9,74.7 408.8,71.9 409.7,68.7 C410.6,65.5 411.9,63.4 413.4,60.8 C414.9,58.1 416.7,55.3 418.7,52.8 C420.7,50.2 422.9,48.0 425.4,45.5 C427.9,43.0 430.8,40.5 433.5,38.1 C436.2,35.7 439.1,33.4 441.6,31.3 C444.1,29.2 446.2,27.1 448.4,25.3 C450.6,23.6 452.8,22.0 454.9,20.8 C457.0,19.6 458.5,19.0 461.2,18.4 C463.9,17.8 466.2,16.8 471.0,17.0Z" fill="#fde0c8" stroke="#e0783a" stroke-width="2.8"/>
<circle cx="441.1" cy="61.6" r="7" fill="#f4b187"/>
<circle cx="460.2" cy="153.4" r="7.2" fill="#f4b187"/>
<circle cx="538.2" cy="125.3" r="7.2" fill="#f4b187"/>
<circle cx="486" cy="98" r="23.5" fill="#f6b894" stroke="#e0783a" stroke-width="2"/>
<path d="M473.53,85.93 C473.53,88.32 475.33,90.15 475.33,92.64 C475.33,95.13 473.53,97.95 473.53,100.67" stroke="#1f6fa6" stroke-width="1.86" stroke-linecap="round" stroke-linejoin="round" fill="none"/><path d="M477.87,85.93 C477.87,88.32 476.07,90.15 476.07,92.64 C476.07,95.13 477.87,97.95 477.87,100.67" stroke="#1f6fa6" stroke-width="1.86" stroke-linecap="round" stroke-linejoin="round" fill="none"/><polyline points="482.50,94.10 482.99,93.93 483.48,93.76 483.97,93.60 484.46,93.47 484.96,93.38 485.45,93.34 485.94,93.37 486.43,93.46 486.92,93.61 487.41,93.81 487.90,94.05 488.39,94.31 488.88,94.57 489.38,94.81 489.87,95.01 490.36,95.14 490.85,95.20 491.34,95.17 491.83,95.05 492.32,94.84 492.81,94.57 493.30,94.24 493.79,93.89 494.29,93.53 494.78,93.20 495.27,92.93 495.76,92.75 496.25,92.66 496.74,92.69 497.23,92.83 497.72,93.08 498.21,93.42 498.71,93.83 499.20,94.28 499.69,94.73 500.18,95.15 500.67,95.50 501.16,95.75 501.65,95.87 502.14,95.86 502.63,95.71 503.12,95.42 503.62,95.02 504.11,94.53 504.60,93.99 505.09,93.44 505.58,92.93 506.07,92.49 506.56,92.17 507.05,92.00 507.54,91.98 508.04,92.14 508.53,92.45 509.02,92.91 509.51,93.47 510.00,94.10" stroke="#2b6db0" stroke-width="0.7" fill="none"/><polyline points="482.50,94.10 482.99,94.27 483.48,94.44 483.97,94.60 484.46,94.73 484.96,94.82 485.45,94.86 485.94,94.83 486.43,94.74 486.92,94.59 487.41,94.39 487.90,94.15 488.39,93.89 488.88,93.63 489.38,93.39 489.87,93.19 490.36,93.06 490.85,93.00 491.34,93.03 491.83,93.15 492.32,93.36 492.81,93.63 493.30,93.96 493.79,94.31 494.29,94.67 494.78,95.00 495.27,95.27 495.76,95.45 496.25,95.54 496.74,95.51 497.23,95.37 497.72,95.12 498.21,94.78 498.71,94.37 499.20,93.92 499.69,93.47 500.18,93.05 500.67,92.70 501.16,92.45 501.65,92.33 502.14,92.34 502.63,92.49 503.12,92.78 503.62,93.18 504.11,93.67 504.60,94.21 505.09,94.76 505.58,95.27 506.07,95.71 506.56,96.03 507.05,96.20 507.54,96.22 508.04,96.06 508.53,95.75 509.02,95.29 509.51,94.73 510.00,94.10" stroke="#1d2f5a" stroke-width="0.7" fill="none"/><rect x="482.2" y="91" width="10.5" height="6.2" fill="none" stroke="#8a6050" stroke-width="0.4"/><rect x="499.7" y="91" width="10.4" height="6.2" fill="none" stroke="#8a6050" stroke-width="0.4"/>
<path d="M482.2,91 L492.7,91 L525,71.4 L484.8,71.4 Z" fill="#c9b9c4" opacity="0.55"/><path d="M500.5,97.2 L509.2,97.2 L535.5,149.7 L489.5,149.7 Z" fill="#c9b9c4" opacity="0.55"/>
<rect x="467" y="27" width="154.3" height="44.4" fill="#fff" stroke="#a8a8a8" stroke-width="0.7"/><path d="M479.4,46 v7.5" stroke="#111" stroke-width="0.7"/><path d="M479.4,55 l-1.4,-2.4 h2.8z" fill="#111"/><text x="481.4" y="51.1" font-size="6.0" fill="#111" text-anchor="start" font-weight="normal" font-style="normal" stroke="#111" stroke-width="0.120" >MEN1</text><path d="M500.5,49.2 h2.5 M504.5,49.2 h2.5 M508.5,49.2 h2.5" stroke="#111" stroke-width="0.6"/><path d="M513.2,49.2 l-2.2,-1.2 v2.4z" fill="#111"/><path d="M519.4,46 v7.5" stroke="#111" stroke-width="0.7"/><path d="M519.4,55 l-1.4,-2.4 h2.8z" fill="#111"/><g transform="translate(529.5,49) rotate(30) scale(1.05)"><path d="M-2.8,-6.2 L2.6,-6.2 A2.4,6.2 0 0 1 2.6,6.2 L-2.8,6.2 Z" fill="#139fc8"/><path d="M-0.7,-6.1 A2.4,6.1 0 0 1 -0.7,6.1" stroke="#0a6a95" stroke-width="0.7" fill="none"/><path d="M1.1,-6.1 A2.4,6.1 0 0 1 1.1,6.1" stroke="#0a6a95" stroke-width="0.7" fill="none"/><ellipse cx="-2.8" cy="0" rx="2.4" ry="6.2" fill="#21bde0"/></g><line x1="530.3" y1="38.3" x2="530.3" y2="42" stroke="#888" stroke-width="0.6"/><circle cx="530.3" cy="35.3" r="3.0" fill="#d8343a"/><ellipse cx="530.3" cy="35.3" rx="1.6500000000000001" ry="0.8999999999999999" fill="#fff" opacity="0.55"/><text x="527.8" y="62.9" font-size="5.0" fill="#222" text-anchor="middle" font-weight="normal" font-style="normal" stroke="#222" stroke-width="0.100" >H3K4me3</text><path d="M540.5,49.2 h2.5 M544.5,49.2 h2.5 M548.5,49.2 h2.5" stroke="#111" stroke-width="0.6"/><path d="M553.2,49.2 l-2.2,-1.2 v2.4z" fill="#111"/><path d="M560.4,46.2 Q566,45.5 570,46.5 L584,46.5" stroke="#2a3f7a" stroke-width="0.6" fill="none"/><g transform="translate(573.5,38.6) rotate(30) scale(0.98)"><path d="M-2.8,-6.2 L2.6,-6.2 A2.4,6.2 0 0 1 2.6,6.2 L-2.8,6.2 Z" fill="#139fc8"/><path d="M-0.7,-6.1 A2.4,6.1 0 0 1 -0.7,6.1" stroke="#0a6a95" stroke-width="0.7" fill="none"/><path d="M1.1,-6.1 A2.4,6.1 0 0 1 1.1,6.1" stroke="#0a6a95" stroke-width="0.7" fill="none"/><ellipse cx="-2.8" cy="0" rx="2.4" ry="6.2" fill="#21bde0"/></g><rect x="584.2" y="42.8" width="30.9" height="6.0" rx="1.20" fill="#cdd6f0" stroke="#5563a0" stroke-width="0.5"/><line x1="585.2" y1="45.08" x2="614.1" y2="45.08" stroke="#eef2fc" stroke-width="1.32"/><path d="M615.1,44.00 L616.7,45.80 L615.1,47.60" fill="none" stroke="#5563a0" stroke-width="0.5"/><path d="M584.2,49.599999999999994 v1.2 h32.0 v-1.2" stroke="#3a4a8a" stroke-width="0.6" fill="none"/><path d="M585.5,42.6 v-6 h9" stroke="#666" stroke-width="0.5" fill="none"/><path d="M597,36.6 l-2,-1.1 v2.2z" fill="#223"/><path d="M588.4,34.4 L593.6,39.6 M593.6,34.4 L588.4,39.6" stroke="#d33" stroke-width="0.7"/><text x="598.2" y="56.6" font-size="5.0" fill="#3b4080" text-anchor="middle" font-weight="normal" font-style="normal" stroke="#3b4080" stroke-width="0.100" >IGF2</text><text x="598.2" y="61.6" font-size="5.0" fill="#3b4080" text-anchor="middle" font-weight="normal" font-style="normal" stroke="#3b4080" stroke-width="0.100" >CDKN2C</text><text x="598.2" y="66.6" font-size="5.0" fill="#3b4080" text-anchor="middle" font-weight="normal" font-style="normal" stroke="#3b4080" stroke-width="0.100" >CDKN1B</text>
<rect x="489.3" y="149.7" width="46.4" height="40.7" fill="#fff" stroke="#a8a8a8" stroke-width="0.6"/><text x="493.5" y="157.3" font-size="4.0" fill="#8a3a32" text-anchor="start" font-weight="normal" font-style="normal" stroke="#8a3a32" stroke-width="0.080" >Methyl group</text><line x1="493.5" y1="164.7" x2="515" y2="164.7" stroke="#444" stroke-width="0.5"/><circle cx="501" cy="161" r="1.1" fill="#7b1414"/><circle cx="504.8" cy="161" r="1.1" fill="#7b1414"/><rect x="515" y="163.4" width="17.88" height="2.8" rx="0.56" fill="#cdd6f0" stroke="#5563a0" stroke-width="0.5"/><line x1="516" y1="164.46" x2="531.88" y2="164.46" stroke="#eef2fc" stroke-width="0.62"/><path d="M532.88,163.96 L534,164.80 L532.88,165.64" fill="none" stroke="#5563a0" stroke-width="0.5"/><path d="M515.6,163.3 v-3.3 h6" stroke="#a33" stroke-width="0.4" fill="none"/><circle cx="522.5" cy="160" r="0.6" fill="#223"/><path d="M516.9,158.3 L519.9,161.3 M519.9,158.3 L516.9,161.3" stroke="#d33" stroke-width="0.5"/><path d="M494.5,166.7 v0.9 h16.899999999999977 v-0.9" stroke="#3a4a8a" stroke-width="0.4" fill="none"/><path d="M515,166.7 v0.9 h18.5 v-0.9" stroke="#3a4a8a" stroke-width="0.4" fill="none"/><text x="503.2" y="172.8" font-size="4.3" fill="#2c3a7a" text-anchor="middle" font-weight="normal" font-style="normal" stroke="#2c3a7a" stroke-width="0.086" >Promoter</text><text x="524.1" y="172.8" font-size="4.3" fill="#2c3a7a" text-anchor="middle" font-weight="normal" font-style="normal" stroke="#2c3a7a" stroke-width="0.086" >RASSF1A</text><text x="524.1" y="177.25" font-size="4.3" fill="#2c3a7a" text-anchor="middle" font-weight="normal" font-style="normal" stroke="#2c3a7a" stroke-width="0.086" >CDKN2A</text><text x="524.1" y="181.70000000000002" font-size="4.3" fill="#2c3a7a" text-anchor="middle" font-weight="normal" font-style="normal" stroke="#2c3a7a" stroke-width="0.086" >PHLDA3</text><text x="524.1" y="186.15" font-size="4.3" fill="#2c3a7a" text-anchor="middle" font-weight="normal" font-style="normal" stroke="#2c3a7a" stroke-width="0.086" >MGMT</text>
<g transform="translate(515,85) scale(0.82)"><path d="M18.2,4.6 C18.6,3.8 18.9,2.3 20.0,1.5 C21.1,0.7 23.2,0.1 25.0,0.0 C26.8,-0.1 29.2,0.1 30.7,0.8 C32.2,1.5 33.1,2.6 33.8,4.0 C34.5,5.4 35.0,7.2 35.1,9.0 C35.2,10.8 34.4,12.7 34.4,14.6 C34.4,16.5 35.4,18.7 35.1,20.3 C34.8,21.9 33.5,22.8 32.5,24.0 C31.4,25.2 30.2,26.8 28.8,27.8 C27.4,28.9 25.9,29.5 24.4,30.3 C22.9,31.1 21.6,32.2 20.0,32.8 C18.4,33.4 16.9,34.1 15.0,34.1 C13.1,34.1 10.7,33.6 8.8,32.8 C6.9,31.9 5.2,30.6 3.8,29.0 C2.4,27.4 1.2,25.3 0.6,23.4 C-0.0,21.5 -0.3,19.4 0.0,17.8 C0.3,16.2 1.2,15.1 2.5,14.0 C3.8,12.9 5.8,12.0 7.5,11.5 C9.2,11.0 11.1,11.7 12.5,10.9 C13.9,10.2 14.9,7.7 15.7,7.0 C16.5,6.3 17.1,6.9 17.5,6.5 C17.9,6.1 17.8,5.4 18.2,4.6Z" fill="#e8e8e8" stroke="#a0a0a0" stroke-width="0.6"/><path d="M12.5,9.0 C12.7,9.7 13.0,12.5 13.8,13.4 C14.6,14.3 15.8,14.1 17.5,14.6 C19.2,15.1 22.0,16.3 23.8,16.5 C25.6,16.7 27.1,16.5 28.2,15.9 C29.3,15.3 30.1,14.1 30.7,12.7 C31.3,11.3 31.8,9.1 31.9,7.7 C32.0,6.4 31.7,5.3 31.3,4.6 C30.9,3.9 29.7,3.6 29.4,3.4" stroke="#d8454a" stroke-width="1.1" fill="none"/><path d="M5.0,4.0 C5.8,4.5 8.3,6.1 10.0,7.1 C11.7,8.1 13.3,9.5 15.0,10.2 C16.7,10.9 18.9,10.8 20.0,11.5 C21.1,12.2 21.1,13.5 21.9,14.6 C22.7,15.7 23.4,17.1 25.0,17.8 C26.6,18.5 29.4,18.9 31.3,19.0 C33.2,19.1 34.8,19.2 36.3,18.4 C37.8,17.6 38.9,14.9 40.0,14.0 C41.1,13.1 42.2,12.6 43.2,12.7 C44.2,12.8 45.4,14.0 46.3,14.6 C47.2,15.2 48.4,16.2 48.8,16.5" stroke="#1f5c9c" stroke-width="1.2" fill="none"/><text x="12" y="27" font-size="3.2" fill="#999">Ago2</text></g><text x="557.4" y="82.5" font-size="4.0" fill="#e0524a" text-anchor="middle" font-weight="normal" font-style="normal" stroke="#e0524a" stroke-width="0.080" >miR-21</text><text x="557.4" y="87.7" font-size="4.0" fill="#e0524a" text-anchor="middle" font-weight="normal" font-style="normal" stroke="#e0524a" stroke-width="0.080" >miR-670-3p</text><text x="557.5" y="105.4" font-size="3.3" fill="#1f4a8a" text-anchor="middle" font-weight="bold" font-style="normal" >mRNA Target</text><text x="454.4" y="139.9" font-size="4.4" fill="#111" text-anchor="middle" font-weight="normal" font-style="normal" stroke="#111" stroke-width="0.088" >PI3K/AKT</text><text x="541.9" y="142.7" font-size="4.4" fill="#111" text-anchor="middle" font-weight="normal" font-style="normal" stroke="#111" stroke-width="0.088" >DNA repair</text><path d="M507.6,184.6 Q470,178 461,163 Q456,153 454.3,144.5" stroke="#222" stroke-width="0.6" fill="none"/><path d="M452.3,144.3 h4" stroke="#222" stroke-width="0.7"/><path d="M518.9,186.6 Q548,182 552.5,165 Q554,155 546,147.5" stroke="#222" stroke-width="0.6" fill="none"/><path d="M544.8,145.8 l3.3,1.0 l-2.1,2.1z" fill="#111"/>
<path d="M139.4,292 L139.4,277.1 A2,2 0 0 1 143.4,277.1 L143.4,280.5 A1.5,1.5 0 0 0 146.4,280.5 L146.4,274.4 A2.2,2.2 0 0 1 150.8,274.4 L150.8,280.5 A1.6,1.6 0 0 0 154,280.5 L154,273.85 A2.15,2.15 0 0 1 158.3,273.85 L158.3,280.4 A2.65,2.65 0 0 0 163.6,280.4 L163.6,274.45 A2.15,2.15 0 0 1 167.9,274.45 L167.9,280.3 A2.25,2.25 0 0 0 172.4,280.3 L172.4,276.8 A2.6,2.6 0 0 1 177.6,276.8 L178.3,285.0 C178.4,286.9 178.3,292.7 178.8,296.6 C179.3,300.5 180.4,304.3 181.4,308.2 C182.4,312.1 183.8,315.9 184.9,319.8 C186.0,323.7 186.8,328.2 187.8,331.4 C188.8,334.6 188.9,333.8 190.7,339.0 C192.5,344.2 195.9,354.7 198.5,362.5 C201.1,370.3 204.5,380.9 206.2,385.9 C207.9,390.9 207.6,390.0 208.6,392.7 C209.6,395.4 210.9,399.1 212.0,402.3 C213.1,405.5 214.1,408.8 214.9,412.0 C215.7,415.2 216.4,418.4 216.8,421.7 C217.2,425.0 217.3,427.3 217.5,432.0 C217.7,436.7 217.9,444.3 217.8,450.0 C217.7,455.7 217.6,461.1 217.0,466.0 C216.4,470.9 215.4,476.2 214.0,479.5 C212.6,482.8 210.8,484.4 208.5,486.0 C206.2,487.6 203.9,488.7 200.0,489.4 C196.1,490.1 195.0,490.1 185.0,490.2 C175.0,490.3 149.1,490.3 140.0,490.2 C130.9,490.1 134.0,490.4 130.5,489.6 C127.0,488.8 122.4,487.3 119.0,485.6 C115.6,483.9 112.5,481.7 110.2,479.3 C107.9,476.9 106.5,474.8 105.3,471.5 C104.1,468.2 103.1,464.1 102.9,459.3 C102.7,454.5 103.5,448.4 104.1,442.9 C104.7,437.4 105.6,431.3 106.6,426.4 C107.6,421.5 109.0,417.2 109.9,413.4 C110.8,409.6 111.1,406.9 111.9,403.7 C112.7,400.5 113.8,397.2 114.8,394.0 C115.8,390.8 117.1,387.5 118.1,384.3 C119.1,381.1 120.0,377.9 121.0,374.7 C122.0,371.5 123.4,367.7 124.4,365.0 C125.4,362.3 125.9,361.4 126.9,358.7 C128.0,356.0 129.5,352.2 130.7,349.0 C131.9,345.8 133.1,342.5 134.1,339.3 C135.1,336.1 135.8,332.9 136.5,329.7 C137.2,326.5 137.6,323.8 138.0,320.0 C138.4,316.2 138.7,310.7 138.9,307.0 C139.1,303.3 139.2,300.5 139.3,298.0 C139.4,295.5 139.4,293.0 139.4,292.0 Z" fill="#b27cc7" stroke="#8d4fa6" stroke-width="2.4" stroke-linejoin="round"/>
<path d="M162.0,369.0 C167.0,368.0 172.3,368.8 176.0,371.0 C179.7,373.2 182.0,376.6 184.0,382.0 C186.0,387.4 187.3,396.4 187.8,403.6 C188.3,410.8 188.1,419.1 186.8,425.0 C185.5,430.9 184.1,435.6 180.0,439.0 C175.9,442.4 167.7,445.2 162.0,445.6 C156.3,446.0 149.8,443.9 146.0,441.5 C142.2,439.1 140.4,435.9 139.0,431.0 C137.6,426.1 137.4,418.8 137.6,412.3 C137.8,405.8 138.6,397.9 140.0,392.0 C141.4,386.1 142.3,380.8 146.0,377.0 C149.7,373.2 157.0,370.0 162.0,369.0Z" fill="#8a4da3"/>
<circle cx="116.7" cy="427.3" r="3.6" fill="#9659ae"/>
<circle cx="127.4" cy="437.1" r="4.1" fill="#9659ae"/>
<circle cx="116.7" cy="443.7" r="4.1" fill="#9659ae"/>
<circle cx="115" cy="456" r="3.3" fill="#9659ae"/>
<circle cx="190.6" cy="440.3" r="3.8" fill="#9659ae"/>
<circle cx="196.9" cy="449" r="3" fill="#9659ae"/>
<circle cx="185.6" cy="456.7" r="4.5" fill="#9659ae"/>
<circle cx="152" cy="458.6" r="4.4" fill="#9659ae"/>
<circle cx="167.4" cy="458.6" r="4.4" fill="#9659ae"/>
<circle cx="198.2" cy="463" r="4" fill="#9659ae"/>
<circle cx="179.3" cy="467.5" r="3" fill="#9659ae"/>
<circle cx="168.5" cy="479.4" r="4.4" fill="#9659ae"/>
<circle cx="193.1" cy="479.3" r="4.5" fill="#9659ae"/>
<circle cx="140" cy="481" r="3" fill="#9659ae"/>
<circle cx="208.2" cy="439" r="3" fill="#9659ae"/>
<circle cx="199.8" cy="422.7" r="4.4" fill="#9659ae"/>
<path d="M138.94,396.84 C138.94,400.06 141.14,402.46 141.14,405.73 C141.14,409.00 138.94,412.70 138.94,416.36" stroke="#2381b4" stroke-width="2.28" stroke-linecap="round" stroke-linejoin="round" fill="none"/><path d="M144.26,396.84 C144.26,400.06 142.06,402.46 142.06,405.73 C142.06,409.00 144.26,412.70 144.26,416.36" stroke="#2381b4" stroke-width="2.28" stroke-linecap="round" stroke-linejoin="round" fill="none"/><polyline points="146.50,414.40 146.99,414.27 147.49,414.13 147.98,414.00 148.47,413.87 148.97,413.76 149.46,413.66 149.95,413.59 150.45,413.54 150.94,413.53 151.43,413.55 151.93,413.61 152.42,413.70 152.91,413.82 153.41,413.98 153.90,414.16 154.39,414.36 154.89,414.57 155.38,414.78 155.87,414.99 156.37,415.18 156.86,415.36 157.35,415.50 157.85,415.61 158.34,415.67 158.83,415.69 159.33,415.66 159.82,415.57 160.31,415.44 160.81,415.27 161.30,415.05 161.79,414.80 162.29,414.52 162.78,414.23 163.27,413.94 163.77,413.66 164.26,413.39 164.75,413.15 165.25,412.96 165.74,412.81 166.23,412.72 166.73,412.69 167.22,412.73 167.71,412.83 168.21,412.99 168.70,413.22 169.19,413.49 169.69,413.81 170.18,414.16 170.67,414.53 171.17,414.90 171.66,415.27 172.15,415.61 172.65,415.91 173.14,416.17 173.63,416.36 174.13,416.48 174.62,416.53 175.11,416.50 175.61,416.38 176.10,416.19 176.59,415.92 177.09,415.59 177.58,415.21 178.07,414.79 178.57,414.34 179.06,413.88 179.55,413.44 180.05,413.02 180.54,412.64 181.03,412.33 181.53,412.08 182.02,411.92 182.51,411.85 183.01,411.88 183.50,412.00" stroke="#2b7dc0" stroke-width="0.85" fill="none"/><polyline points="146.50,414.40 146.99,414.53 147.49,414.67 147.98,414.80 148.47,414.93 148.97,415.04 149.46,415.14 149.95,415.21 150.45,415.26 150.94,415.27 151.43,415.25 151.93,415.19 152.42,415.10 152.91,414.98 153.41,414.82 153.90,414.64 154.39,414.44 154.89,414.23 155.38,414.02 155.87,413.81 156.37,413.62 156.86,413.44 157.35,413.30 157.85,413.19 158.34,413.13 158.83,413.11 159.33,413.14 159.82,413.23 160.31,413.36 160.81,413.53 161.30,413.75 161.79,414.00 162.29,414.28 162.78,414.57 163.27,414.86 163.77,415.14 164.26,415.41 164.75,415.65 165.25,415.84 165.74,415.99 166.23,416.08 166.73,416.11 167.22,416.07 167.71,415.97 168.21,415.81 168.70,415.58 169.19,415.31 169.69,414.99 170.18,414.64 170.67,414.27 171.17,413.90 171.66,413.53 172.15,413.19 172.65,412.89 173.14,412.63 173.63,412.44 174.13,412.32 174.62,412.27 175.11,412.30 175.61,412.42 176.10,412.61 176.59,412.88 177.09,413.21 177.58,413.59 178.07,414.01 178.57,414.46 179.06,414.92 179.55,415.36 180.05,415.78 180.54,416.16 181.03,416.47 181.53,416.72 182.02,416.88 182.51,416.95 183.01,416.92 183.50,416.80" stroke="#1d3f7a" stroke-width="0.85" fill="none"/><rect x="145.7" y="410.5" width="10.4" height="7.6" fill="none" stroke="#6a3a8a" stroke-width="0.45"/><rect x="172.7" y="410.5" width="10.4" height="7.6" fill="none" stroke="#6a3a8a" stroke-width="0.45"/><circle cx="209.3" cy="411.4" r="0.45" fill="#444"/><circle cx="209.3" cy="416.6" r="0.45" fill="#444"/><line x1="143.9" y1="429" x2="143.9" y2="425" stroke="#111" stroke-width="0.5"/><path d="M143.9,423.6 l-1,1.8 h2z" fill="#111"/><line x1="149.2" y1="449" x2="153.9" y2="433" stroke="#111" stroke-width="0.5"/><path d="M154.4,431.3 l-1.5,1.6 l1.9,0.6z" fill="#111"/>
<path d="M146.5,410.5 L157,410.5 L205,385.3 L160,385.3 Z" fill="#c6a8dc" opacity="0.6"/><path d="M182.3,414.5 L232,427.6 L210.6,427.6 L210.6,430 L177,419.2 Z" fill="#c6a8dc" opacity="0.6"/>
<rect x="156.6" y="339.4" width="76.1" height="45.9" fill="#fff" stroke="#a8a8a8" stroke-width="0.7"/><line x1="163.2" y1="369.5" x2="195.5" y2="369.5" stroke="#444" stroke-width="0.8"/><g transform="translate(171.5,361.4) rotate(27) scale(1.25)"><path d="M-2.8,-6.2 L2.6,-6.2 A2.4,6.2 0 0 1 2.6,6.2 L-2.8,6.2 Z" fill="#139fc8"/><path d="M-0.7,-6.1 A2.4,6.1 0 0 1 -0.7,6.1" stroke="#0a6a95" stroke-width="0.7" fill="none"/><path d="M1.1,-6.1 A2.4,6.1 0 0 1 1.1,6.1" stroke="#0a6a95" stroke-width="0.7" fill="none"/><ellipse cx="-2.8" cy="0" rx="2.4" ry="6.2" fill="#21bde0"/></g><line x1="175.6" y1="349.5" x2="175.6" y2="354.5" stroke="#666" stroke-width="0.6"/><circle cx="175.6" cy="346.8" r="3.3" fill="#1c9a3c"/><ellipse cx="175.6" cy="346.8" rx="1.815" ry="0.9899999999999999" fill="#fff" opacity="0.55"/><rect x="195.1" y="367.1" width="30.2" height="4.6" rx="0.92" fill="#cdd6f0" stroke="#5563a0" stroke-width="0.5"/><line x1="196.1" y1="368.85" x2="224.3" y2="368.85" stroke="#eef2fc" stroke-width="1.01"/><path d="M225.3,368.02 L226.9,369.40 L225.3,370.78" fill="none" stroke="#5563a0" stroke-width="0.5"/><path d="M162.3,373.79999999999995 v1.6 h24.399999999999977 v-1.6" stroke="#3a4a8a" stroke-width="0.7" fill="none"/><path d="M195.1,373.79999999999995 v1.6 h31.900000000000006 v-1.6" stroke="#3a4a8a" stroke-width="0.7" fill="none"/><text x="174.3" y="383.6" font-size="6.2" fill="#2c3a7a" text-anchor="middle" font-weight="normal" font-style="normal" stroke="#2c3a7a" stroke-width="0.124" >Promoter</text><text x="210.9" y="383.6" font-size="6.2" fill="#2c3a7a" text-anchor="middle" font-weight="normal" font-style="normal" stroke="#2c3a7a" stroke-width="0.124" >SST2</text>
<rect x="210.6" y="427.6" width="75.1" height="57.7" fill="#fff" stroke="#a8a8a8" stroke-width="0.7"/><text x="217" y="434.3" font-size="4.8" fill="#8a3a32" text-anchor="start" font-weight="normal" font-style="normal" stroke="#8a3a32" stroke-width="0.096" >Methyl group</text><line x1="215" y1="450.3" x2="250.4" y2="450.3" stroke="#333" stroke-width="0.7"/><line x1="227.3" y1="450.3" x2="227.3" y2="444.0" stroke="#7a1212" stroke-width="0.5"/><circle cx="227.3" cy="444.0" r="1.9" fill="#7b1414"/><line x1="233.4" y1="450.3" x2="233.4" y2="444.0" stroke="#7a1212" stroke-width="0.5"/><circle cx="233.4" cy="444.0" r="1.9" fill="#7b1414"/><rect x="250.4" y="448.1" width="28.7" height="4.5" rx="0.90" fill="#cdd6f0" stroke="#5563a0" stroke-width="0.5"/><line x1="251.4" y1="449.81" x2="278.09999999999997" y2="449.81" stroke="#eef2fc" stroke-width="0.99"/><path d="M279.09999999999997,449.00 L280.7,450.35 L279.09999999999997,451.70" fill="none" stroke="#5563a0" stroke-width="0.5"/><path d="M251.2,448 v-6.6 h10.5" stroke="#777" stroke-width="0.45" fill="none"/><path d="M263.4,441.4 l-1.9,-1 v2z" fill="#223"/><path d="M253.6,439.3 L259.4,445.09999999999997 M259.4,439.3 L253.6,445.09999999999997" stroke="#d33" stroke-width="0.7"/><path d="M220.8,454.59999999999997 v1.3 h19.299999999999983 v-1.3" stroke="#3a4a8a" stroke-width="0.5" fill="none"/><path d="M249.3,454.59999999999997 v1.3 h30.599999999999966 v-1.3" stroke="#3a4a8a" stroke-width="0.5" fill="none"/><text x="229.9" y="461.3" font-size="4.7" fill="#3b4080" text-anchor="middle" font-weight="normal" font-style="normal" stroke="#3b4080" stroke-width="0.094" >Promoter</text><text x="263.3" y="461.3" font-size="4.6" fill="#3b4080" text-anchor="middle" font-weight="normal" font-style="normal" stroke="#3b4080" stroke-width="0.092" >RASSF1A</text><text x="263.3" y="466.42" font-size="4.6" fill="#3b4080" text-anchor="middle" font-weight="normal" font-style="normal" stroke="#3b4080" stroke-width="0.092" >SEMA3F</text><text x="263.3" y="471.54" font-size="4.6" fill="#3b4080" text-anchor="middle" font-weight="normal" font-style="normal" stroke="#3b4080" stroke-width="0.092" >CTNNB1</text><text x="263.3" y="476.66" font-size="4.6" fill="#3b4080" text-anchor="middle" font-weight="normal" font-style="normal" stroke="#3b4080" stroke-width="0.092" >MAPK4</text><text x="263.3" y="481.78000000000003" font-size="4.6" fill="#3b4080" text-anchor="middle" font-weight="normal" font-style="normal" stroke="#3b4080" stroke-width="0.092" >WIF1</text>
<path d="M131,368.5 L133.6,363.3 L138.4,362.4 L143.2,361 L146,360.2 L154,355.6" stroke="#3a2a4a" stroke-width="0.55" fill="none"/><ellipse cx="132.2" cy="359.5" rx="1.4" ry="4.0" transform="rotate(-20 132.2 359.5)" stroke="#3a2a4a" stroke-width="0.55" fill="none"/><ellipse cx="137" cy="358.5" rx="1.4" ry="4.2" transform="rotate(-20 137 358.5)" stroke="#3a2a4a" stroke-width="0.55" fill="none"/><ellipse cx="141.9" cy="357.3" rx="1.7" ry="3.9" transform="rotate(-20 141.9 357.3)" stroke="#3a2a4a" stroke-width="0.55" fill="none"/><line x1="127.7" y1="372.6" x2="127.7" y2="369" stroke="#111" stroke-width="0.6"/><path d="M127.7,367.3 l-1.1,2 h2.2z" fill="#111"/><text x="142.7" y="369.6" font-size="3.1" fill="#3a2a4a" text-anchor="middle" font-weight="normal" font-style="normal" stroke="#3a2a4a" stroke-width="0.062" >lncRNA</text><text x="142.7" y="373.2" font-size="3.1" fill="#3a2a4a" text-anchor="middle" font-weight="normal" font-style="normal" stroke="#3a2a4a" stroke-width="0.062" >HOTAIR</text><text x="93" y="388.6" font-size="5.0" fill="#222" text-anchor="middle" font-weight="normal" font-style="italic" >chromatin</text><text x="93" y="394.8" font-size="5.0" fill="#222" text-anchor="middle" font-weight="normal" font-style="italic" >state</text><text x="93" y="400.9" font-size="5.0" fill="#222" text-anchor="middle" font-weight="normal" font-style="italic" >regulator</text><path d="M117.2,377.7 Q106,383 105.2,390 Q105.5,397 112.3,399.6 Q118,402 125.5,403.3" stroke="#222" stroke-width="0.6" fill="none"/><path d="M127.8,403.8 l-2.8,-1.6 l-0.4,2.6z" fill="#111"/><g transform="translate(109.9,449.3) scale(0.91)"><path d="M18.2,4.6 C18.6,3.8 18.9,2.3 20.0,1.5 C21.1,0.7 23.2,0.1 25.0,0.0 C26.8,-0.1 29.2,0.1 30.7,0.8 C32.2,1.5 33.1,2.6 33.8,4.0 C34.5,5.4 35.0,7.2 35.1,9.0 C35.2,10.8 34.4,12.7 34.4,14.6 C34.4,16.5 35.4,18.7 35.1,20.3 C34.8,21.9 33.5,22.8 32.5,24.0 C31.4,25.2 30.2,26.8 28.8,27.8 C27.4,28.9 25.9,29.5 24.4,30.3 C22.9,31.1 21.6,32.2 20.0,32.8 C18.4,33.4 16.9,34.1 15.0,34.1 C13.1,34.1 10.7,33.6 8.8,32.8 C6.9,31.9 5.2,30.6 3.8,29.0 C2.4,27.4 1.2,25.3 0.6,23.4 C-0.0,21.5 -0.3,19.4 0.0,17.8 C0.3,16.2 1.2,15.1 2.5,14.0 C3.8,12.9 5.8,12.0 7.5,11.5 C9.2,11.0 11.1,11.7 12.5,10.9 C13.9,10.2 14.9,7.7 15.7,7.0 C16.5,6.3 17.1,6.9 17.5,6.5 C17.9,6.1 17.8,5.4 18.2,4.6Z" fill="#e8e8e8" stroke="#a0a0a0" stroke-width="0.6"/><path d="M12.5,9.0 C12.7,9.7 13.0,12.5 13.8,13.4 C14.6,14.3 15.8,14.1 17.5,14.6 C19.2,15.1 22.0,16.3 23.8,16.5 C25.6,16.7 27.1,16.5 28.2,15.9 C29.3,15.3 30.1,14.1 30.7,12.7 C31.3,11.3 31.8,9.1 31.9,7.7 C32.0,6.4 31.7,5.3 31.3,4.6 C30.9,3.9 29.7,3.6 29.4,3.4" stroke="#d8454a" stroke-width="1.1" fill="none"/><path d="M5.0,4.0 C5.8,4.5 8.3,6.1 10.0,7.1 C11.7,8.1 13.3,9.5 15.0,10.2 C16.7,10.9 18.9,10.8 20.0,11.5 C21.1,12.2 21.1,13.5 21.9,14.6 C22.7,15.7 23.4,17.1 25.0,17.8 C26.6,18.5 29.4,18.9 31.3,19.0 C33.2,19.1 34.8,19.2 36.3,18.4 C37.8,17.6 38.9,14.9 40.0,14.0 C41.1,13.1 42.2,12.6 43.2,12.7 C44.2,12.8 45.4,14.0 46.3,14.6 C47.2,15.2 48.4,16.2 48.8,16.5" stroke="#1f5c9c" stroke-width="1.2" fill="none"/><text x="12" y="27" font-size="3.2" fill="#999">Ago2</text></g><text x="156.8" y="455" font-size="4.8" fill="#e0524a" text-anchor="middle" font-weight="normal" font-style="normal" stroke="#e0524a" stroke-width="0.096" >miR-186</text><text x="156.5" y="471.3" font-size="3.6" fill="#1f4a8a" text-anchor="middle" font-weight="bold" font-style="normal" >mRNA Target</text><text x="156.3" y="475.6" font-size="3.6" fill="#1f4a8a" text-anchor="middle" font-weight="bold" font-style="normal" >PTTG1</text><text x="300.2" y="430.5" font-size="5.0" fill="#111" text-anchor="middle" font-weight="normal" font-style="normal" stroke="#111" stroke-width="0.100" >apoptosis</text><text x="315" y="475" font-size="4.6" fill="#111" text-anchor="middle" font-weight="normal" font-style="normal" stroke="#111" stroke-width="0.092" >AKT/mTOR</text><text x="315" y="480.2" font-size="4.6" fill="#111" text-anchor="middle" font-weight="normal" font-style="normal" stroke="#111" stroke-width="0.092" >PDK1</text><path d="M274.8,465.4 Q290,463 296,452 Q299.5,444 299.7,436" stroke="#111" stroke-width="0.85" fill="none"/><path d="M299.8,432.8 l-1.7,3.6 h3.4z" fill="#111"/><line x1="279.5" y1="476.2" x2="299" y2="476.2" stroke="#111" stroke-width="0.85"/><path d="M302.2,476.2 l-3.6,-1.7 v3.4z" fill="#111"/>
<path d="M482.0,274.4 C484.7,274.3 486.2,274.3 490.0,274.2 C493.8,274.1 500.0,273.8 505.0,273.8 C510.0,273.8 515.3,274.1 520.0,274.2 C524.7,274.3 529.8,274.5 533.0,274.7 C536.2,274.9 537.3,275.0 539.0,275.6 C540.7,276.2 542.1,277.3 543.2,278.6 C544.3,279.9 545.0,281.7 545.7,283.5 C546.4,285.3 546.7,286.8 547.6,289.5 C548.5,292.2 549.7,296.0 551.0,300.0 C552.3,304.0 553.9,308.9 555.3,313.5 C556.7,318.1 557.4,320.3 559.6,327.3 C561.8,334.3 565.5,346.0 568.5,355.3 C571.5,364.6 574.2,372.4 577.5,383.2 C580.8,394.0 585.0,409.7 588.0,420.0 C591.0,430.3 593.6,438.0 595.5,445.0 C597.4,452.0 598.7,457.9 599.3,462.0 C599.9,466.1 599.5,467.2 599.0,469.5 C598.5,471.8 597.8,473.8 596.5,475.5 C595.2,477.2 593.6,479.0 591.5,480.0 C589.4,481.0 589.2,481.3 584.0,481.6 C578.8,481.9 579.0,481.6 560.0,481.6 C541.0,481.6 492.3,481.6 470.0,481.6 C447.7,481.6 434.7,481.8 426.0,481.6 C417.3,481.4 420.1,481.4 418.0,480.3 C415.9,479.2 414.6,477.6 413.5,475.0 C412.4,472.4 411.9,468.8 411.6,465.0 C411.3,461.2 411.6,456.3 411.8,452.0 C412.0,447.7 412.1,444.8 413.0,439.0 C413.9,433.2 415.4,424.4 417.3,417.3 C419.2,410.2 422.0,403.4 424.2,396.4 C426.4,389.3 428.5,382.1 430.6,375.0 C432.7,367.9 434.9,360.9 437.0,353.8 C439.1,346.7 441.3,339.4 443.4,332.6 C445.5,325.8 447.6,318.9 449.5,313.0 C451.4,307.1 453.3,301.4 455.0,297.0 C456.7,292.6 458.1,289.3 459.5,286.5 C460.9,283.7 462.1,281.8 463.5,280.0 C464.9,278.2 466.2,276.9 468.0,276.0 C469.8,275.1 471.7,274.9 474.0,274.6 C476.3,274.3 479.3,274.5 482.0,274.4Z" fill="#ceebea" stroke="#1fa89a" stroke-width="3.8"/>
<ellipse cx="506.1" cy="411" rx="49" ry="39.6" fill="#a4dcd7" stroke="#90cfc8" stroke-width="3.6"/>
<path d="M470.84,401.14 C470.84,404.72 473.62,407.48 473.62,411.25 C473.62,415.01 470.84,419.28 470.84,423.36" stroke="#1f6fa6" stroke-width="2.88" stroke-linecap="round" stroke-linejoin="round" fill="none"/><path d="M477.56,401.14 C477.56,404.72 474.78,407.48 474.78,411.25 C474.78,415.01 477.56,419.28 477.56,423.36" stroke="#1f6fa6" stroke-width="2.88" stroke-linecap="round" stroke-linejoin="round" fill="none"/><polyline points="480.00,413.20 480.49,413.05 480.99,412.89 481.48,412.74 481.98,412.59 482.47,412.45 482.97,412.33 483.46,412.23 483.96,412.15 484.45,412.10 484.95,412.09 485.44,412.11 485.94,412.17 486.43,412.26 486.92,412.38 487.42,412.54 487.91,412.72 488.41,412.93 488.90,413.15 489.40,413.39 489.89,413.63 490.39,413.86 490.88,414.09 491.38,414.29 491.87,414.47 492.37,414.62 492.86,414.72 493.35,414.79 493.85,414.81 494.34,414.77 494.84,414.69 495.33,414.56 495.83,414.39 496.32,414.17 496.82,413.92 497.31,413.63 497.81,413.32 498.30,413.00 498.80,412.68 499.29,412.36 499.78,412.06 500.28,411.79 500.77,411.55 501.27,411.36 501.76,411.21 502.26,411.12 502.75,411.10 503.25,411.13 503.74,411.23 504.24,411.40 504.73,411.62 505.23,411.89 505.72,412.22 506.22,412.58 506.71,412.96 507.20,413.37 507.70,413.78 508.19,414.18 508.69,414.56 509.18,414.90 509.68,415.21 510.17,415.46 510.67,415.64 511.16,415.76 511.66,415.80 512.15,415.76 512.65,415.65 513.14,415.46 513.63,415.20 514.13,414.87 514.62,414.48 515.12,414.05 515.61,413.58 516.11,413.09 516.60,412.60 517.10,412.11 517.59,411.65 518.09,411.23 518.58,410.86 519.08,410.55 519.57,410.32 520.06,410.16 520.56,410.10 521.05,410.13 521.55,410.26 522.04,410.47 522.54,410.77 523.03,411.15 523.53,411.60 524.02,412.10 524.52,412.64 525.01,413.21 525.51,413.79 526.00,414.36" stroke="#2b7dc0" stroke-width="1.0" fill="none"/><polyline points="480.00,413.20 480.49,413.35 480.99,413.51 481.48,413.66 481.98,413.81 482.47,413.95 482.97,414.07 483.46,414.17 483.96,414.25 484.45,414.30 484.95,414.31 485.44,414.29 485.94,414.23 486.43,414.14 486.92,414.02 487.42,413.86 487.91,413.68 488.41,413.47 488.90,413.25 489.40,413.01 489.89,412.77 490.39,412.54 490.88,412.31 491.38,412.11 491.87,411.93 492.37,411.78 492.86,411.68 493.35,411.61 493.85,411.59 494.34,411.63 494.84,411.71 495.33,411.84 495.83,412.01 496.32,412.23 496.82,412.48 497.31,412.77 497.81,413.08 498.30,413.40 498.80,413.72 499.29,414.04 499.78,414.34 500.28,414.61 500.77,414.85 501.27,415.04 501.76,415.19 502.26,415.28 502.75,415.30 503.25,415.27 503.74,415.17 504.24,415.00 504.73,414.78 505.23,414.51 505.72,414.18 506.22,413.82 506.71,413.44 507.20,413.03 507.70,412.62 508.19,412.22 508.69,411.84 509.18,411.50 509.68,411.19 510.17,410.94 510.67,410.76 511.16,410.64 511.66,410.60 512.15,410.64 512.65,410.75 513.14,410.94 513.63,411.20 514.13,411.53 514.62,411.92 515.12,412.35 515.61,412.82 516.11,413.31 516.60,413.80 517.10,414.29 517.59,414.75 518.09,415.17 518.58,415.54 519.08,415.85 519.57,416.08 520.06,416.24 520.56,416.30 521.05,416.27 521.55,416.14 522.04,415.93 522.54,415.63 523.03,415.25 523.53,414.80 524.02,414.30 524.52,413.76 525.01,413.19 525.51,412.61 526.00,412.04" stroke="#1d3f7a" stroke-width="1.0" fill="none"/><rect x="477" y="408.4" width="12.7" height="9.6" fill="none" stroke="#6a8a8a" stroke-width="0.45"/><rect x="508" y="408.4" width="17.5" height="9.6" fill="none" stroke="#6a8a8a" stroke-width="0.45"/>
<path d="M478,409.5 L489,409.5 L553.5,378.8 L494,378.8 Z" fill="#9ec8d0" opacity="0.55"/><path d="M525.5,410.3 L561.4,405 L561.4,458 L510,418 Z" fill="#9ec0d0" opacity="0.55"/>
<rect x="492.6" y="328.3" width="129.4" height="50.4" fill="#fff" stroke="#a8a8a8" stroke-width="0.7"/><path d="M506,362.5 Q512,361 518,363.5 Q522,364 524,362" stroke="#2a3f7a" stroke-width="0.6" fill="none"/><g transform="translate(515.6,354.2) rotate(30) scale(1.27)"><path d="M-2.8,-6.2 L2.6,-6.2 A2.4,6.2 0 0 1 2.6,6.2 L-2.8,6.2 Z" fill="#139fc8"/><path d="M-0.7,-6.1 A2.4,6.1 0 0 1 -0.7,6.1" stroke="#0a6a95" stroke-width="0.7" fill="none"/><path d="M1.1,-6.1 A2.4,6.1 0 0 1 1.1,6.1" stroke="#0a6a95" stroke-width="0.7" fill="none"/><ellipse cx="-2.8" cy="0" rx="2.4" ry="6.2" fill="#21bde0"/></g><path d="M540,362.5 Q546,361 552,363.5 Q556,364 558,362" stroke="#2a3f7a" stroke-width="0.6" fill="none"/><g transform="translate(548.9,354.2) rotate(30) scale(1.27)"><path d="M-2.8,-6.2 L2.6,-6.2 A2.4,6.2 0 0 1 2.6,6.2 L-2.8,6.2 Z" fill="#139fc8"/><path d="M-0.7,-6.1 A2.4,6.1 0 0 1 -0.7,6.1" stroke="#0a6a95" stroke-width="0.7" fill="none"/><path d="M1.1,-6.1 A2.4,6.1 0 0 1 1.1,6.1" stroke="#0a6a95" stroke-width="0.7" fill="none"/><ellipse cx="-2.8" cy="0" rx="2.4" ry="6.2" fill="#21bde0"/></g><line x1="547.5" y1="342" x2="547.5" y2="346" stroke="#888" stroke-width="0.6"/><circle cx="547.5" cy="337.8" r="4.2" fill="#d8343a"/><ellipse cx="547.5" cy="337.8" rx="2.3100000000000005" ry="1.26" fill="#fff" opacity="0.55"/><line x1="522.7" y1="346.2" x2="522.7" y2="340.5" stroke="#e3171b" stroke-width="0.8"/><path d="M522.7,338.6 l-1.3,2.3 h2.6z" fill="#e3171b"/><text x="524.3" y="346.2" font-size="5.6" fill="#111" text-anchor="start" font-weight="normal" font-style="normal" stroke="#111" stroke-width="0.112" >EZH2</text><line x1="527" y1="353" x2="534" y2="353" stroke="#111" stroke-width="0.7"/><path d="M535.6,353 l-2.2,-1.2 v2.4z" fill="#111"/><line x1="529.2" y1="356.7" x2="531.5" y2="356.7" stroke="#111" stroke-width="0.7"/><path d="M527,356.7 l2.2,-1.2 v2.4z" fill="#111"/><line x1="533" y1="356.7" x2="535.4" y2="356.7" stroke="#111" stroke-width="0.7"/><line x1="531.2" y1="372.6" x2="531.2" y2="367.8" stroke="#e3171b" stroke-width="0.8"/><path d="M531.2,366 l-1.3,2.3 h2.6z" fill="#e3171b"/><text x="533.2" y="371.7" font-size="5.4" fill="#111" text-anchor="start" font-weight="normal" font-style="normal" stroke="#111" stroke-width="0.108" >H3K27me3</text><line x1="557.6" y1="355.6" x2="564.3" y2="355.6" stroke="#111" stroke-width="0.7"/><line x1="564.6" y1="353.6" x2="564.6" y2="357.6" stroke="#111" stroke-width="0.7"/><text x="592.5" y="352.3" font-size="5.6" fill="#111" text-anchor="middle" font-weight="normal" font-style="normal" stroke="#111" stroke-width="0.112" >differentiation genes</text><text x="592.5" y="359.6" font-size="5.6" fill="#111" text-anchor="middle" font-weight="normal" font-style="normal" stroke="#111" stroke-width="0.112" >genes restraining</text><text x="592.5" y="366.7" font-size="5.6" fill="#111" text-anchor="middle" font-weight="normal" font-style="normal" stroke="#111" stroke-width="0.112" >proliferation</text>
<rect x="561.4" y="384.3" width="71.6" height="80.9" fill="#fff" stroke="#a8a8a8" stroke-width="0.7"/><text x="565.7" y="395.3" font-size="5.1" fill="#8a3a32" text-anchor="start" font-weight="normal" font-style="normal" stroke="#8a3a32" stroke-width="0.102" >Methyl group</text><line x1="565.7" y1="408.6" x2="598.9" y2="408.6" stroke="#333" stroke-width="0.7"/><line x1="575" y1="408.6" x2="575" y2="402.6" stroke="#7a1212" stroke-width="0.5"/><circle cx="575" cy="402.6" r="1.8" fill="#7b1414"/><line x1="579.2" y1="408.6" x2="579.2" y2="402.6" stroke="#7a1212" stroke-width="0.5"/><circle cx="579.2" cy="402.6" r="1.8" fill="#7b1414"/><line x1="583.2" y1="408.6" x2="583.2" y2="402.6" stroke="#7a1212" stroke-width="0.5"/><circle cx="583.2" cy="402.6" r="1.8" fill="#7b1414"/><rect x="598.9" y="406.4" width="26.5" height="4.3" rx="0.86" fill="#cdd6f0" stroke="#5563a0" stroke-width="0.5"/><line x1="599.9" y1="408.03" x2="624.4" y2="408.03" stroke="#eef2fc" stroke-width="0.95"/><path d="M625.4,407.26 L627.0,408.55 L625.4,409.84" fill="none" stroke="#5563a0" stroke-width="0.5"/><path d="M599.4,406.3 v-5.5 h10.5" stroke="#777" stroke-width="0.45" fill="none"/><path d="M612.6,400.8 l-2,-1 v2z" fill="#223"/><path d="M601.5999999999999,398.2 L607.0,403.59999999999997 M607.0,398.2 L601.5999999999999,403.59999999999997" stroke="#d33" stroke-width="0.7"/><path d="M570.8,411.6 v1.2 h18.700000000000045 v-1.2" stroke="#3a4a8a" stroke-width="0.5" fill="none"/><path d="M598.9,411.6 v1.2 h27.600000000000023 v-1.2" stroke="#3a4a8a" stroke-width="0.5" fill="none"/><text x="580.2" y="418.2" font-size="4.0" fill="#3b4080" text-anchor="middle" font-weight="normal" font-style="normal" stroke="#3b4080" stroke-width="0.080" >Hypermethylated</text><text x="580.2" y="422.7" font-size="4.0" fill="#3b4080" text-anchor="middle" font-weight="normal" font-style="normal" stroke="#3b4080" stroke-width="0.080" >Promoter</text><text x="612.7" y="418.6" font-size="4.0" fill="#3b4080" text-anchor="middle" font-weight="normal" font-style="normal" stroke="#3b4080" stroke-width="0.080" >RASSF1A</text><text x="612.7" y="423.0" font-size="4.0" fill="#3b4080" text-anchor="middle" font-weight="normal" font-style="normal" stroke="#3b4080" stroke-width="0.080" >MGMT</text><text x="612.7" y="427.40000000000003" font-size="4.0" fill="#3b4080" text-anchor="middle" font-weight="normal" font-style="normal" stroke="#3b4080" stroke-width="0.080" >endocrine-</text><text x="612.7" y="431.8" font-size="4.0" fill="#3b4080" text-anchor="middle" font-weight="normal" font-style="normal" stroke="#3b4080" stroke-width="0.080" >related genes</text><line x1="565.7" y1="448.6" x2="598.9" y2="448.6" stroke="#333" stroke-width="0.7"/><line x1="579.3" y1="448.6" x2="579.3" y2="442.6" stroke="#7a1212" stroke-width="0.5"/><circle cx="579.3" cy="442.6" r="1.8" fill="#7b1414"/><rect x="598.9" y="446.6" width="26.5" height="4.2" rx="0.84" fill="#cdd6f0" stroke="#5563a0" stroke-width="0.5"/><line x1="599.9" y1="448.20" x2="624.4" y2="448.20" stroke="#eef2fc" stroke-width="0.92"/><path d="M625.4,447.44 L627.0,448.70 L625.4,449.96" fill="none" stroke="#5563a0" stroke-width="0.5"/><path d="M599.4,446.5 v-5.5 h12" stroke="#2a9a3a" stroke-width="0.5" fill="none"/><circle cx="612.5" cy="441" r="0.9" fill="#2a9a3a"/><path d="M570.8,452.40000000000003 v1.2 h18.700000000000045 v-1.2" stroke="#3a4a8a" stroke-width="0.5" fill="none"/><path d="M598.9,452.40000000000003 v1.2 h27.600000000000023 v-1.2" stroke="#3a4a8a" stroke-width="0.5" fill="none"/><text x="580.2" y="459.5" font-size="4.0" fill="#3b4080" text-anchor="middle" font-weight="normal" font-style="normal" stroke="#3b4080" stroke-width="0.080" >Hypomethylated</text><text x="580.2" y="463.8" font-size="4.0" fill="#3b4080" text-anchor="middle" font-weight="normal" font-style="normal" stroke="#3b4080" stroke-width="0.080" >Promoter</text><text x="612.7" y="459.5" font-size="4.0" fill="#3b4080" text-anchor="middle" font-weight="normal" font-style="normal" stroke="#3b4080" stroke-width="0.080" >INSL4</text><text x="612.7" y="463.8" font-size="4.0" fill="#3b4080" text-anchor="middle" font-weight="normal" font-style="normal" stroke="#3b4080" stroke-width="0.080" >DPPA2</text>
<g transform="translate(415,442.3) scale(1.0)"><path d="M18.2,4.6 C18.6,3.8 18.9,2.3 20.0,1.5 C21.1,0.7 23.2,0.1 25.0,0.0 C26.8,-0.1 29.2,0.1 30.7,0.8 C32.2,1.5 33.1,2.6 33.8,4.0 C34.5,5.4 35.0,7.2 35.1,9.0 C35.2,10.8 34.4,12.7 34.4,14.6 C34.4,16.5 35.4,18.7 35.1,20.3 C34.8,21.9 33.5,22.8 32.5,24.0 C31.4,25.2 30.2,26.8 28.8,27.8 C27.4,28.9 25.9,29.5 24.4,30.3 C22.9,31.1 21.6,32.2 20.0,32.8 C18.4,33.4 16.9,34.1 15.0,34.1 C13.1,34.1 10.7,33.6 8.8,32.8 C6.9,31.9 5.2,30.6 3.8,29.0 C2.4,27.4 1.2,25.3 0.6,23.4 C-0.0,21.5 -0.3,19.4 0.0,17.8 C0.3,16.2 1.2,15.1 2.5,14.0 C3.8,12.9 5.8,12.0 7.5,11.5 C9.2,11.0 11.1,11.7 12.5,10.9 C13.9,10.2 14.9,7.7 15.7,7.0 C16.5,6.3 17.1,6.9 17.5,6.5 C17.9,6.1 17.8,5.4 18.2,4.6Z" fill="#e8e8e8" stroke="#a0a0a0" stroke-width="0.6"/><path d="M12.5,9.0 C12.7,9.7 13.0,12.5 13.8,13.4 C14.6,14.3 15.8,14.1 17.5,14.6 C19.2,15.1 22.0,16.3 23.8,16.5 C25.6,16.7 27.1,16.5 28.2,15.9 C29.3,15.3 30.1,14.1 30.7,12.7 C31.3,11.3 31.8,9.1 31.9,7.7 C32.0,6.4 31.7,5.3 31.3,4.6 C30.9,3.9 29.7,3.6 29.4,3.4" stroke="#d8454a" stroke-width="1.1" fill="none"/><path d="M5.0,4.0 C5.8,4.5 8.3,6.1 10.0,7.1 C11.7,8.1 13.3,9.5 15.0,10.2 C16.7,10.9 18.9,10.8 20.0,11.5 C21.1,12.2 21.1,13.5 21.9,14.6 C22.7,15.7 23.4,17.1 25.0,17.8 C26.6,18.5 29.4,18.9 31.3,19.0 C33.2,19.1 34.8,19.2 36.3,18.4 C37.8,17.6 38.9,14.9 40.0,14.0 C41.1,13.1 42.2,12.6 43.2,12.7 C44.2,12.8 45.4,14.0 46.3,14.6 C47.2,15.2 48.4,16.2 48.8,16.5" stroke="#1f5c9c" stroke-width="1.2" fill="none"/><text x="12" y="27" font-size="3.2" fill="#999">Ago2</text></g><line x1="453.2" y1="451" x2="453.2" y2="446.6" stroke="#e3171b" stroke-width="0.9"/><path d="M453.2,444.8 l-1.4,2.3 h2.8z" fill="#e3171b"/><text x="455.7" y="449.5" font-size="5.4" fill="#e0524a" text-anchor="start" font-weight="normal" font-style="normal" stroke="#e0524a" stroke-width="0.108" >miR-375</text><text x="465.4" y="467.3" font-size="3.9" fill="#1f4a9a" text-anchor="middle" font-weight="bold" font-style="normal" >mRNA Target</text><line x1="457.2" y1="467.8" x2="457.2" y2="471.6" stroke="#1a2ad0" stroke-width="0.9"/><path d="M457.2,473.4 l-1.4,-2.3 h2.8z" fill="#1a2ad0"/><text x="460" y="471.6" font-size="4.2" fill="#1f4a9a" text-anchor="start" font-weight="bold" font-style="normal" >YAP1</text>
<path d="M111.5,241.5 l-3.8,7.4 h2.85 v8.1 h1.9 v-8.1 h2.85 z" fill="#e3171b"/><text x="119.5" y="254.3" font-size="14.6" fill="#ba2e30">Tumor progression</text>
<path d="M427.0,244.2 l-3.8,7.4 h2.85 v8.1 h1.9 v-8.1 h2.85 z" fill="#e3171b"/><text x="435" y="257" font-size="14.6" fill="#ba2e30">Tumor progression</text>
<path d="M117.0,495.2 l-3.8,7.4 h2.85 v8.1 h1.9 v-8.1 h2.85 z" fill="#e3171b"/><text x="125" y="508" font-size="14.6" fill="#ba2e30">Tumor progression</text>
<path d="M453.3,497.2 l-3.8,7.4 h2.85 v8.1 h1.9 v-8.1 h2.85 z" fill="#e3171b"/><text x="461.3" y="510" font-size="14.6" fill="#ba2e30">Tumor progression</text>
</svg>
</body></html>
